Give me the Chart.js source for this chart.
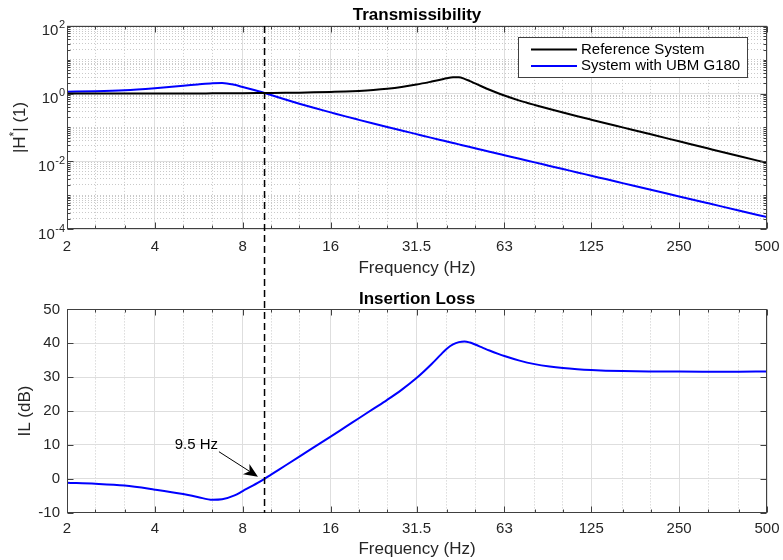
<!DOCTYPE html>
<html>
<head>
<meta charset="utf-8">
<script src="https://cdn.jsdelivr.net/npm/chart.js@4.4.1/dist/chart.umd.min.js"></script>
<style>
  html, body { margin: 0; padding: 0; background: #fff; }
  .panel { width: 783px; height: 280px; }
  canvas { display: block; }
</style>
</head>
<body>
<div class="panel"><canvas id="trans" width="783" height="280"></canvas></div>
<div class="panel"><canvas id="loss" width="783" height="280"></canvas></div>
<script>
// values
const freq = [2, 2.5, 3.15, 4, 5, 5.6, 6.3, 6.8, 7.5, 8, 9, 9.5, 10, 11.2, 12.5, 14, 16, 18, 20, 22.4,
  25, 28, 31.5, 35.5, 38, 40, 42, 44, 46, 48, 50, 53, 56, 60, 63, 71, 80, 90, 100, 112,
  125, 140, 160, 200, 250, 315, 400, 500];
const referenceSystem = [1.0, 1.0, 1.003, 1.006, 1.01, 1.012, 1.016, 1.019, 1.023, 1.026, 1.033, 1.037, 1.041, 1.052, 1.066, 1.088, 1.12, 1.153, 1.203, 1.28,
  1.391, 1.567, 1.848, 2.27, 2.575, 2.839, 3.025, 3.04, 2.732, 2.343, 1.999, 1.597, 1.303, 1.027, 0.878, 0.621, 0.461, 0.3495, 0.2756, 0.2148,
  0.1696, 0.1332, 0.1004, 0.0626, 0.0389, 0.02377, 0.01432, 0.00897];
const ubmSystem = [1.14, 1.18, 1.265, 1.45, 1.70, 1.86, 2.03, 2.07, 1.82, 1.56, 1.19, 1.04, 0.91, 0.67, 0.504, 0.381, 0.279, 0.212, 0.1675, 0.1305,
  0.103, 0.0813, 0.0634, 0.0493, 0.0428, 0.0385, 0.0348, 0.0316, 0.0288, 0.0264, 0.0243, 0.0215, 0.0192, 0.01667, 0.0151, 0.01183, 0.00929, 0.00731, 0.0059, 0.00469,
  0.00375, 0.00298, 0.00227, 0.00144, 0.000917, 0.000573, 0.000352, 0.000224];
const insertionLoss = [-1.15, -1.45, -2.0, -3.2, -4.5, -5.35, -6.2, -6.05, -4.9, -3.6, -1.2, 0.0, 1.23, 3.93, 6.55, 9.26, 12.45, 15.32, 17.88, 20.64,
  23.31, 26.26, 29.74, 33.9, 36.5, 38.4, 39.67, 40.35, 40.55, 40.22, 39.64, 38.73, 37.87, 36.88, 36.24, 34.89, 33.85, 33.13, 32.67, 32.33,
  32.09, 31.92, 31.8, 31.7, 31.65, 31.63, 31.63, 31.65];

const xTickValues = [2, 4, 8, 16, 31.5, 63, 125, 250, 500];
const xTickLabels = ['2', '4', '8', '16', '31.5', '63', '125', '250', '500'];
const xMinorValues = [2.5, 3.15, 5, 6.3, 10, 12.5, 20, 25, 40, 50, 80, 100, 160, 200, 315, 400];
const yTopExponents = [2, 0, -2, -4];
const ilTicks = [-10, 0, 10, 20, 30, 40, 50];
const crossoverHz = 9.5;
const note = { text: '9.5 Hz', textAt: [6.58, 10.1], tail: [6.63, 8.0], tip: [9.02, 0.62] };

const yMinorValues = [];
for (let e = -4; e < 2; e++) {
  for (let k = 1; k < 10; k++) {
    if (k === 1 && e % 2 === 0) continue;
    yMinorValues.push(k * Math.pow(10, e));
  }
}

const FONT = '"Liberation Sans", Arial, Helvetica, sans-serif';
const TICK = '#262626';
const AXIS = '#404040';
const GRID = '#dedede';
const MINOR = '#c9c9c9';
Chart.defaults.font.family = FONT;

const series = vals => freq.map((f, i) => ({ x: f, y: vals[i] }));

// tickLen is an invisible tick mark, used only as a gap under the axis
function freqAxes(tickLen, tickPad, titlePad) {
  return {
    x: {
      type: 'logarithmic', min: 2, max: 500, position: 'bottom',
      afterBuildTicks: s => { s.ticks = xTickValues.map(v => ({ value: v })); },
      ticks: { autoSkip: false, maxRotation: 0, padding: tickPad, color: TICK, font: { size: 15 },
        callback: v => xTickLabels[xTickValues.indexOf(v)] },
      grid: { color: GRID, drawTicks: true, tickLength: tickLen, tickColor: 'rgba(0,0,0,0)' },
      border: { display: false },
      title: { display: true, text: 'Frequency (Hz)', color: TICK, font: { size: 17 }, padding: titlePad }
    },
    xm: {
      type: 'logarithmic', min: 2, max: 500, position: 'bottom',
      afterBuildTicks: s => { s.ticks = xMinorValues.map(v => ({ value: v })); },
      ticks: { display: false },
      grid: { color: MINOR, drawTicks: false },
      border: { display: false, dash: [1, 2] }
    }
  };
}

// box round the axes with inward ticks, like the original
const framePlugin = {
  id: 'frame',
  afterDatasetsDraw(chart) {
    const { ctx, chartArea: a, scales } = chart;
    const L = Math.round(a.left) + 0.5, R = Math.round(a.right) - 0.5;
    const T = Math.round(a.top) + 0.5, B = Math.round(a.bottom) - 0.5;
    ctx.save();
    ctx.strokeStyle = AXIS;
    ctx.lineWidth = 1;
    ctx.beginPath();
    Object.values(scales).forEach(s => {
      const len = s.id.endsWith('m') ? 3 : 6;
      s.ticks.forEach(t => {
        const p = Math.round(s.getPixelForValue(t.value)) + 0.5;
        if (s.isHorizontal()) {
          ctx.moveTo(p, B); ctx.lineTo(p, B - len);
          ctx.moveTo(p, T); ctx.lineTo(p, T + len);
        } else {
          ctx.moveTo(L, p); ctx.lineTo(L + len, p);
          ctx.moveTo(R, p); ctx.lineTo(R - len, p);
        }
      });
    });
    ctx.stroke();
    ctx.strokeRect(L, T, R - L, B - T);
    ctx.restore();
  }
};

// dashed line at the crossover frequency, runs across both panels
const crossoverPlugin = {
  id: 'crossover',
  afterDatasetsDraw(chart, args, opts) {
    const { ctx, chartArea: a } = chart;
    const x = chart.scales.x.getPixelForValue(crossoverHz);
    ctx.save();
    ctx.strokeStyle = '#000';
    ctx.lineWidth = 1.5;
    ctx.setLineDash([7, 4]);
    ctx.beginPath();
    if (opts.extend === 'down') {
      ctx.moveTo(x, a.top); ctx.lineTo(x, chart.height);
    } else {
      ctx.lineDashOffset = 1;
      ctx.moveTo(x, 0); ctx.lineTo(x, a.bottom);
    }
    ctx.stroke();
    ctx.restore();
  }
};

// y tick labels with exponents, y title with superscript, legend box
const transDecor = {
  id: 'transDecor',
  afterDraw(chart) {
    const { ctx, chartArea: a, scales: { y } } = chart;
    ctx.save();
    ctx.fillStyle = TICK;
    ctx.textAlign = 'right';
    ctx.textBaseline = 'alphabetic';
    yTopExponents.forEach(e => {
      const py = y.getPixelForValue(Math.pow(10, e));
      const exp = String(e);
      ctx.font = '11px ' + FONT;
      const ew = ctx.measureText(exp).width;
      ctx.fillText(exp, a.left - 2, py + 2.5);
      ctx.font = '15px ' + FONT;
      ctx.fillText('10', a.left - 2.5 - ew, py + 9.5);
    });

    ctx.save();
    ctx.translate(25, (a.top + a.bottom) / 2);
    ctx.rotate(-Math.PI / 2);
    ctx.textAlign = 'left';
    const parts = [['|H', 17, 0], ['*', 12, -7], ['| (1)', 17, 0]];
    let total = 0;
    parts.forEach(p => { ctx.font = p[1] + 'px ' + FONT; p.push(ctx.measureText(p[0]).width); total += p[3]; });
    let cx = -total / 2;
    parts.forEach(p => {
      ctx.font = p[1] + 'px ' + FONT;
      ctx.fillText(p[0], cx, p[2]);
      cx += p[3];
    });
    ctx.restore();

    const ds = chart.data.datasets;
    ctx.font = '15px ' + FONT;
    const textW = Math.max(...ds.map(d => ctx.measureText(d.label).width));
    const boxW = Math.round(13 + 46 + 4 + textW + 7), boxH = 40;
    const boxR = Math.round(a.right) - 20, boxT = Math.round(a.top) + 11;
    const boxL = boxR - boxW;
    ctx.fillStyle = '#fff';
    ctx.fillRect(boxL, boxT, boxW, boxH);
    ctx.strokeStyle = AXIS;
    ctx.lineWidth = 1;
    ctx.strokeRect(boxL + 0.5, boxT + 0.5, boxW, boxH);
    ctx.textAlign = 'left';
    ctx.textBaseline = 'middle';
    ds.forEach((d, i) => {
      const cy = boxT + 12.5 + i * 16.5;
      ctx.strokeStyle = d.borderColor;
      ctx.lineWidth = d.borderWidth;
      ctx.beginPath();
      ctx.moveTo(boxL + 13, cy); ctx.lineTo(boxL + 59, cy);
      ctx.stroke();
      ctx.fillStyle = '#000';
      ctx.fillText(d.label, boxL + 63, cy);
    });
    ctx.restore();
  }
};

// "9.5 Hz" text and arrow
const notePlugin = {
  id: 'note',
  afterDatasetsDraw(chart) {
    const { ctx, scales: { x, y } } = chart;
    ctx.save();
    ctx.fillStyle = '#000';
    ctx.font = '15px ' + FONT;
    ctx.textAlign = 'right';
    ctx.textBaseline = 'middle';
    ctx.fillText(note.text, x.getPixelForValue(note.textAt[0]), y.getPixelForValue(note.textAt[1]));

    const x0 = x.getPixelForValue(note.tail[0]), y0 = y.getPixelForValue(note.tail[1]);
    const x1 = x.getPixelForValue(note.tip[0]), y1 = y.getPixelForValue(note.tip[1]);
    const ang = Math.atan2(y1 - y0, x1 - x0);
    const ca = Math.cos(ang), sa = Math.sin(ang);
    const pt = (along, across) => [x1 - along * ca - across * sa, y1 - along * sa + across * ca];
    ctx.strokeStyle = '#000';
    ctx.lineWidth = 1;
    ctx.beginPath();
    ctx.moveTo(x0, y0);
    ctx.lineTo(...pt(10, 0));
    ctx.stroke();
    ctx.beginPath();
    ctx.moveTo(x1, y1);
    ctx.lineTo(...pt(14, 6));
    ctx.lineTo(...pt(10, 0));
    ctx.lineTo(...pt(14, -6));
    ctx.closePath();
    ctx.fill();
    ctx.restore();
  }
};

const common = {
  responsive: false,
  animation: false,
  devicePixelRatio: 1,
  events: [],
  elements: {
    point: { radius: 0 },
    line: { cubicInterpolationMode: 'monotone', fill: false, borderJoinStyle: 'round', borderCapStyle: 'round' }
  }
};

new Chart(document.getElementById('trans'), {
  type: 'line',
  data: {
    datasets: [
      { label: 'Reference System', data: series(referenceSystem), borderColor: '#000000', borderWidth: 2 },
      { label: 'System with UBM G180', data: series(ubmSystem), borderColor: '#0000ff', borderWidth: 2 }
    ]
  },
  options: {
    ...common,
    layout: { padding: { left: 0, right: 16, top: 0, bottom: 1 } },
    plugins: {
      legend: { display: false },
      tooltip: { enabled: false },
      title: { display: true, text: 'Transmissibility', fullSize: false, color: '#000',
        font: { size: 17, weight: 'bold' }, padding: { top: 5.5, bottom: 0 } },
      crossover: { extend: 'down' }
    },
    scales: {
      ...freqAxes(8, 0.5, { top: 1.8, bottom: 0.8 }),
      y: {
        type: 'logarithmic', min: 1e-4, max: 1e2, position: 'left',
        afterBuildTicks: s => { s.ticks = yTopExponents.map(e => ({ value: Math.pow(10, e) })); },
        afterFit: s => { s.width = 67; },
        ticks: { display: false },
        grid: { color: GRID, drawTicks: false },
        border: { display: false }
      },
      ym: {
        type: 'logarithmic', min: 1e-4, max: 1e2, position: 'left',
        afterBuildTicks: s => { s.ticks = yMinorValues.map(v => ({ value: v })); },
        ticks: { display: false },
        grid: { color: MINOR, drawTicks: false },
        border: { display: false, dash: [1, 2] }
      }
    }
  },
  plugins: [framePlugin, crossoverPlugin, transDecor]
});

new Chart(document.getElementById('loss'), {
  type: 'line',
  data: {
    datasets: [
      { label: 'Insertion Loss', data: series(insertionLoss), borderColor: '#0000ff', borderWidth: 2 }
    ]
  },
  options: {
    ...common,
    layout: { padding: { left: 0, right: 16, top: 0, bottom: 0 } },
    plugins: {
      legend: { display: false },
      tooltip: { enabled: false },
      title: { display: true, text: 'Insertion Loss', fullSize: false, color: '#000',
        font: { size: 17, weight: 'bold' }, padding: { top: 9, bottom: 0 } },
      crossover: { extend: 'up' }
    },
    scales: {
      ...freqAxes(7, 0.3, { top: 1.3, bottom: 0 }),
      y: {
        type: 'linear', min: -10, max: 50, position: 'left',
        afterBuildTicks: s => { s.ticks = ilTicks.map(v => ({ value: v })); },
        afterFit: s => { s.width = 67; },
        ticks: { padding: 7, color: TICK, font: { size: 15 } },
        grid: { color: GRID, drawTicks: false },
        border: { display: false },
        title: { display: true, text: 'IL (dB)', color: TICK, font: { size: 17 }, padding: { top: 15.5, bottom: 0 } }
      }
    }
  },
  plugins: [framePlugin, crossoverPlugin, notePlugin]
});
</script>
</body>
</html>
